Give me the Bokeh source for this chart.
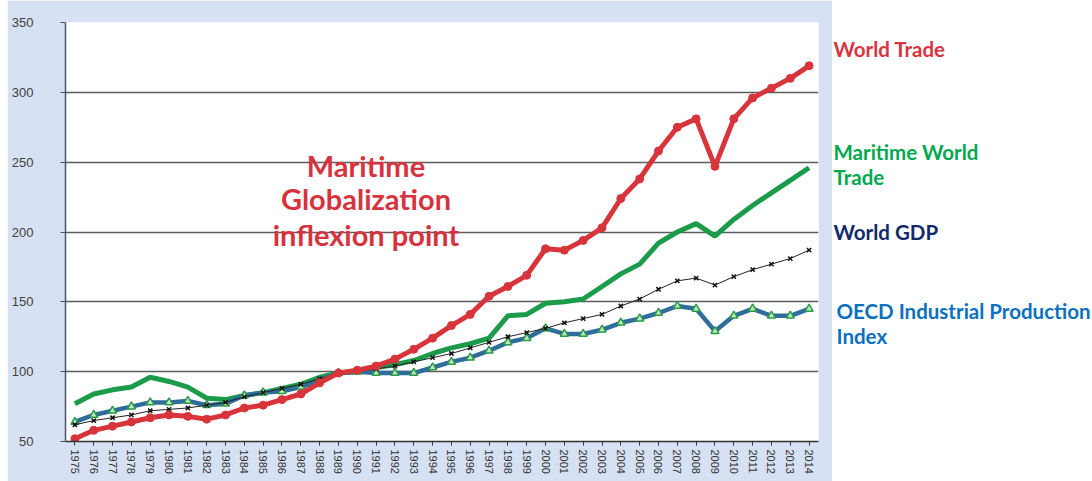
from bokeh.plotting import figure
from bokeh.models import Range1d, FactorRange, Label, Spacer, FixedTicker
from bokeh.layouts import row
from bokeh.embed import file_html
from bokeh.resources import INLINE

# ---------------- data ----------------
years = [str(y) for y in range(1975, 2015)]

world_trade = [52, 58, 61, 64, 67, 69, 68, 66, 69, 74,
               76, 80, 84, 92, 99, 101, 104, 109, 116, 124,
               133, 141, 154, 161, 169, 188, 187, 194, 203, 224,
               238, 258, 275, 281, 247, 281, 296, 303, 310, 319]

maritime_trade = [77, 84, 87, 89, 96, 93, 89, 81, 80, 83,
                  85, 88, 91, 96, 99, 100, 103, 105, 108, 113,
                  117, 120, 124, 140, 141, 149, 150, 152, 161, 170,
                  177, 192, 200, 206, 197, 209, 219, 228, 237, 246]

world_gdp = [62, 65, 67, 69, 72, 73, 74, 76, 78, 82,
             85, 88, 91, 95, 98, 100, 102, 104, 107, 110,
             113, 117, 121, 125, 128, 131, 135, 138, 141, 147,
             152, 159, 165, 167, 162, 168, 173, 177, 181, 187]

oecd_ip = [64, 69, 72, 75, 78, 78, 79, 76, 77, 83,
           85, 86, 89, 94, 99, 100, 99, 99, 99, 103,
           107, 110, 115, 121, 124, 131, 127, 127, 130, 135,
           138, 142, 147, 145, 129, 140, 145, 140, 140, 145]

y_ticks = [50, 100, 150, 200, 250, 300, 350]

annotation_lines = ["Maritime", "Globalization", "inflexion point"]

legend_lines = [("World Trade", "#d9353f"),
                ("Maritime World", "#00a84f"),
                ("Trade", "#00a84f"),
                ("World GDP", "#112a6b"),
                ("OECD Industrial Production", "#0a70c0"),
                ("Index", "#0a70c0")]

# ---------------- main chart ----------------
p = figure(x_range=FactorRange(*years, range_padding=0),
           y_range=Range1d(50, 350),
           width=825, height=481,
           output_backend="svg", toolbar_location=None,
           title_location=None,
           min_border_left=58, min_border_right=14,
           min_border_top=22, min_border_bottom=40,
           background_fill_color="white",
           border_fill_color="#d6e1f4")
p.outline_line_color = None

p.xgrid.visible = False
p.ygrid.grid_line_color = "#5c5c5c"
p.ygrid.grid_line_width = 1.5

p.yaxis.ticker = FixedTicker(ticks=y_ticks)
p.yaxis.axis_line_color = "#4c5466"
p.yaxis.axis_line_width = 1.5
p.yaxis.major_tick_out = 5
p.yaxis.major_tick_in = 0
p.yaxis.minor_tick_line_color = None
p.yaxis.major_tick_line_color = "#4c5466"
p.yaxis.major_label_standoff = 27
p.yaxis.major_label_text_font = "Liberation Sans"
p.yaxis.major_label_text_font_size = "13px"
p.yaxis.major_label_text_color = "#404040"

p.xaxis.axis_line_color = "#333333"
p.xaxis.axis_line_width = 1.5
p.xaxis.major_tick_out = 4
p.xaxis.major_tick_in = 0
p.xaxis.major_tick_line_color = "#333333"
p.xaxis.major_label_orientation = "vertical"
p.xaxis.major_label_standoff = 4
p.xaxis.major_label_text_font = "Liberation Sans"
p.xaxis.major_label_text_font_size = "11px"
p.xaxis.major_label_text_color = "#333333"

# series
p.line(years, maritime_trade, line_color="#1c9b4a", line_width=5)
p.line(years, oecd_ip, line_color="#2f6d9c", line_width=4.5)
p.scatter(years, oecd_ip, marker="triangle", size=8,
          fill_color="#bfe8b8", line_color="#2a9a4a", line_width=1.5)
p.line(years, world_gdp, line_color="#222222", line_width=1)
p.scatter(years, world_gdp, marker="x", size=6,
          line_color="#111111", line_width=1.5)
p.line(years, world_trade, line_color="#d8343c", line_width=5)
p.scatter(years, world_trade, marker="circle", size=8,
          fill_color="#d8343c", line_color="#d8343c")

# annotation (three centred lines), y at visual centre of each line
ann_x = 15.96
ann_y = [247.5, 224.0, 198.0]
for txt, yy in zip(annotation_lines, ann_y):
    p.add_layout(Label(x=ann_x, y=yy, text=txt, text_align="center",
                       text_baseline="middle", text_font="Lato",
                       text_font_style="bold", text_font_size="29px",
                       text_color="#d6333e"))

# ---------------- right-hand legend panel ----------------
# the row aligns this panel's frame with the chart frame (22..441 px)
lf = figure(width=260, height=481, x_range=Range1d(0, 260),
            y_range=Range1d(441, 22), output_backend="svg",
            toolbar_location=None, title_location=None,
            x_axis_location=None, y_axis_location=None,
            min_border=0,
            background_fill_color="white", border_fill_color="white")
lf.grid.visible = False
lf.outline_line_color = None

leg_x = [1, 1, 1, 1, 4, 4]
leg_y = [48, 151, 176, 231, 310, 335]
for (txt, col), xx, yy in zip(legend_lines, leg_x, leg_y):
    lf.add_layout(Label(x=xx, y=yy, text=txt, text_align="left",
                        text_baseline="middle", text_font="Lato",
                        text_font_style="bold", text_font_size="20.5px",
                        text_color=col))

layout = row(Spacer(width=7, height=481), p, lf)

open("out.html", "w").write(file_html(layout, INLINE))
